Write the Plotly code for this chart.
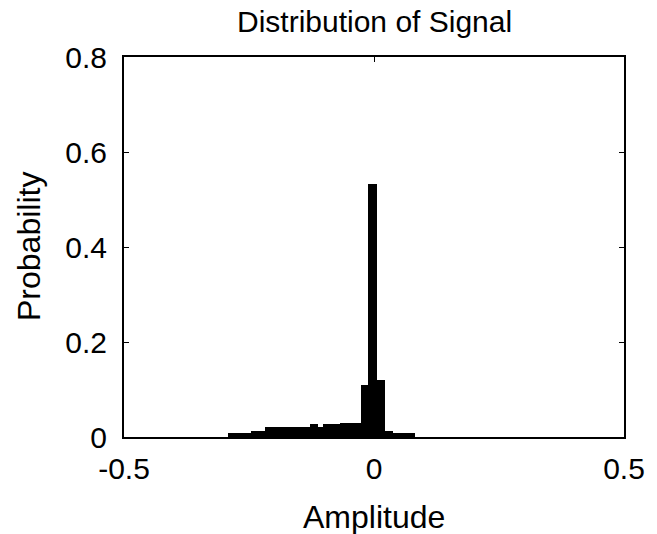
import plotly.graph_objects as go

# Histogram bin edges (amplitude) and bar heights (probability)
bin_edges = [-0.293, -0.246, -0.219, -0.128, -0.1114, -0.1014, -0.068,
             -0.026, -0.0114, 0.0054, 0.022, 0.0386, 0.082]
probabilities = [0.008, 0.0133, 0.0204, 0.0267, 0.0217, 0.027, 0.0305,
                 0.109, 0.532, 0.12, 0.0133, 0.009]

x_ticks = [-0.5, 0, 0.5]
x_tick_labels = ["-0.5", "0", "0.5"]
y_ticks = [0, 0.2, 0.4, 0.6, 0.8]
y_tick_labels = ["0", "0.2", "0.4", "0.6", "0.8"]

centers = [(a + b) / 2 for a, b in zip(bin_edges[:-1], bin_edges[1:])]
widths = [b - a for a, b in zip(bin_edges[:-1], bin_edges[1:])]

FONT = "Liberation Sans, Arial, sans-serif"

fig = go.Figure(go.Bar(
    x=centers, y=probabilities, width=widths,
    marker=dict(color="black", line=dict(width=0)),
    showlegend=False, hoverinfo="x+y",
))

axis_common = dict(
    showgrid=False, zeroline=False, showline=True, linecolor="black", linewidth=2,
    mirror="ticks", ticks="inside", ticklen=5, tickwidth=1, tickcolor="black",
    tickfont=dict(family=FONT, size=30, color="black"),
)

fig.update_layout(
    width=649, height=526,
    margin=dict(l=116, r=32.5, t=49, b=97),
    paper_bgcolor="white", plot_bgcolor="white",
    bargap=0,
    xaxis=dict(range=[-0.5, 0.5], tickvals=x_ticks, ticktext=x_tick_labels,
               ticklabelstandoff=4, **axis_common),
    yaxis=dict(range=[0, 0.8], tickvals=y_ticks, ticktext=y_tick_labels,
               ticklabelstandoff=9, **axis_common),
    annotations=[
        dict(text="Distribution of Signal", xref="paper", yref="paper", x=0.5, y=1.0947,
             xanchor="center", yanchor="middle", showarrow=False,
             font=dict(family=FONT, size=30, color="black")),
        dict(text="Amplitude", xref="paper", yref="paper", x=0.5, y=-0.2105,
             xanchor="center", yanchor="middle", showarrow=False,
             font=dict(family=FONT, size=32, color="black")),
        dict(text="Probability", xref="paper", yref="paper", x=-0.19, y=0.5,
             xanchor="center", yanchor="middle", textangle=-90, showarrow=False,
             font=dict(family=FONT, size=32, color="black")),
    ],
)

fig.write_html("out.html")
